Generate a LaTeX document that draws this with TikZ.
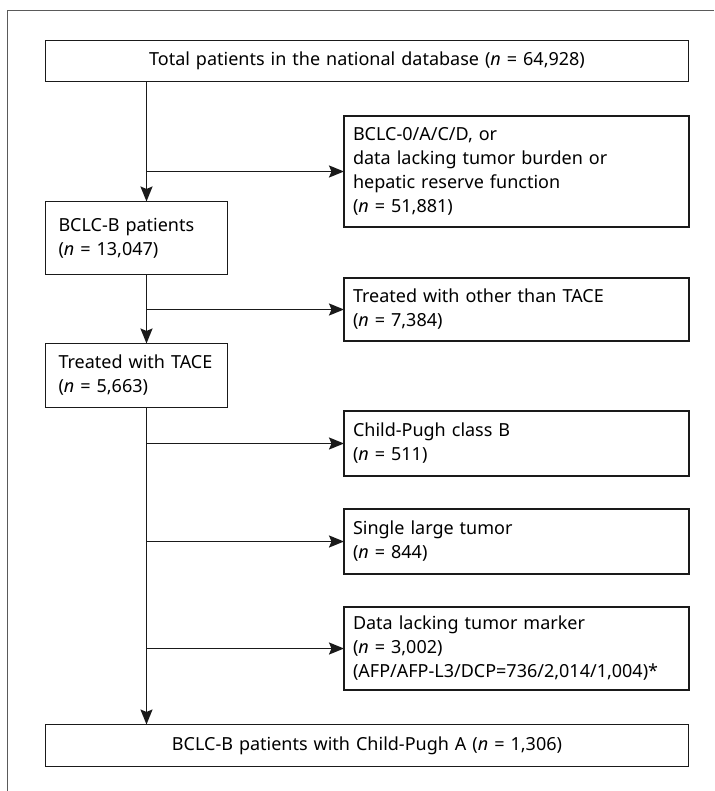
\documentclass[tikz,border=0pt]{standalone}
\usepackage{fontspec}
\setmainfont{Noto Sans}
\usetikzlibrary{arrows.meta}
\definecolor{boxc}{HTML}{1A1A1A}
\definecolor{framec}{HTML}{5A5A5A}
\begin{document}
\begin{tikzpicture}[x=1pt,y=-1pt,
  bx/.style={draw=boxc, line width=1.9pt, outer sep=0pt, inner ysep=0pt, anchor=north west,
    font=\fontsize{18}{24}\selectfont, align=left},
  lbox/.style={bx, inner xsep=13pt, text width=156pt},
  rbox/.style={bx, inner xsep=9pt, text width=327pt},
  wbox/.style={bx, inner xsep=10pt, text width=623pt, align=center},
  arr/.style={draw=boxc, line width=1.9pt, -{Stealth[length=15pt,width=12pt,inset=2.5pt]}}
]
\useasboundingbox (0,0) rectangle (714,791);
\draw[framec, line width=1.4pt] (7.5,791) -- (7.5,10.5) -- (714,10.5);

\node[wbox, minimum height=41pt] (top) at (45.5,40.5) {Total patients in the national database ({\itshape n} = 64,928)};
\node[rbox, minimum height=111pt] (ex1) at (344,116) {BCLC-0/A/C/D, or\\data lacking tumor burden or\\hepatic reserve function\\({\itshape n} = 51,881)};
\node[lbox, minimum height=73pt] (bclcb) at (45.5,201.5) {BCLC-B patients\\({\itshape n} = 13,047)};
\node[rbox, minimum height=63pt] (ex2) at (344,278) {Treated with other than TACE\\({\itshape n} = 7,384)};
\node[lbox, minimum height=64pt] (tace) at (45.5,343.5) {Treated with TACE\\({\itshape n} = 5,663)};
\node[rbox, minimum height=65pt] (ex3) at (344,411) {Child-Pugh class B\\({\itshape n} = 511)};
\node[rbox, minimum height=65pt] (ex4) at (344,509) {Single large tumor\\({\itshape n} = 844)};
\node[rbox, minimum height=83pt] (ex5) at (344,607) {Data lacking tumor marker\\({\itshape n} = 3,002)\\(AFP/AFP-L3/DCP=736/2,014/1,004)*};
\node[wbox, minimum height=42pt] (final) at (45.5,724.5) {BCLC-B patients with Child-Pugh A ({\itshape n} = 1,306)};

\coordinate (tk) at (146.5,0);
\draw[arr] (top.south -| tk) -- (bclcb.north -| tk);
\draw[arr] (bclcb.south -| tk) -- (tace.north -| tk);
\draw[arr] (tace.south -| tk) -- (final.north -| tk);
\draw[arr] (ex1.west -| tk) -- (ex1.west);
\draw[arr] (ex2.west -| tk) -- (ex2.west);
\draw[arr] (ex3.west -| tk) -- (ex3.west);
\draw[arr] (ex4.west -| tk) -- (ex4.west);
\draw[arr] (ex5.west -| tk) -- (ex5.west);
\end{tikzpicture}
\end{document}
